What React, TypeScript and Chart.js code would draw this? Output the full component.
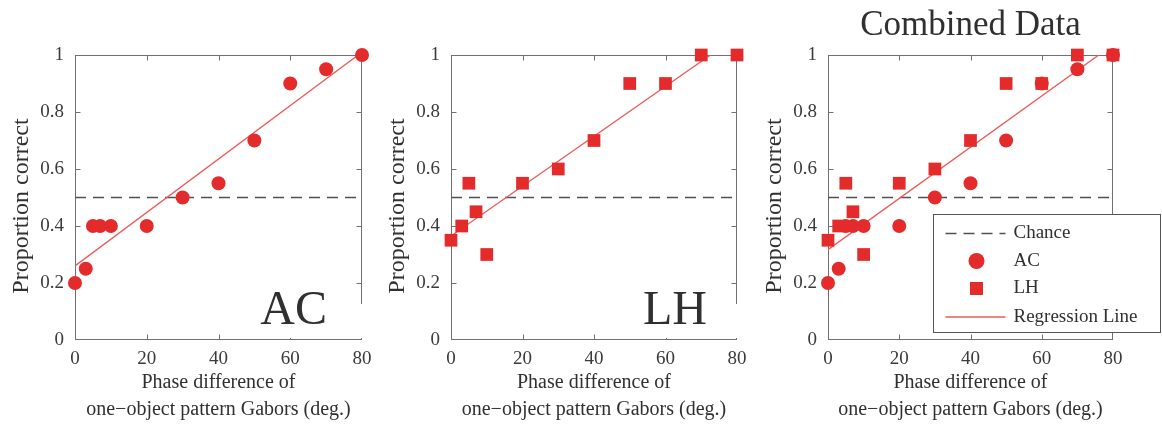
import React, { useEffect, useRef } from "react";
import { Chart, registerables } from "chart.js";

Chart.register(...registerables);

// ---- data ----
const phaseDiffs = [0, 3, 5, 7, 10, 20, 30, 40, 50, 60, 70, 80];
const acProportion = [0.2, 0.25, 0.4, 0.4, 0.4, 0.4, 0.5, 0.55, 0.7, 0.9, 0.95, 1.0];
const lhProportion = [0.35, 0.4, 0.55, 0.45, 0.3, 0.55, 0.6, 0.7, 0.9, 0.9, 1.0, 1.0];
const regressionX = [0, 80];
const acRegression = [0.26, 1.01];
const lhRegression = [0.365, 1.065];
const combinedRegression = [0.317, 1.036];
const chanceX = [0, 80];
const chanceLevel = [0.5, 0.5];
const xTicks = [0, 20, 40, 60, 80];
const yTicks = [0, 0.2, 0.4, 0.6, 0.8, 1];
const legendLabels = ["Chance", "AC", "LH", "Regression Line"];
const panelTitles = ["", "", "Combined Data"];
const panelTags = ["AC", "LH", ""];
const xAxisTitle = ["Phase difference of", "one\u2212object pattern Gabors (deg.)"];
const yAxisTitle = "Proportion correct";

// ---- styles ----
const FONT = '"Liberation Serif", "Times New Roman", Times, serif';
const RED = "#e42b2b";
const REG = "#ef5a5a";
const CHANCE = "#505050";
const FRAME = "#707070";
const TEXT = "#303030";

const panelLeft = [0, 376, 753];
const panelWidth = [387, 387, 409];
const panelPadRight = [25, 26, 49];
const H = 433;

const pts = (xs: number[], ys: number[]) => xs.map((x, i) => ({ x, y: ys[i] }));

function circleSet(label: string, ys: number[]) {
  return {
    label,
    data: pts(phaseDiffs, ys),
    pointStyle: "circle",
    pointRadius: 7,
    pointBackgroundColor: RED,
    pointBorderWidth: 0,
    pointBorderColor: RED,
    showLine: false,
    clip: false,
  };
}
function squareSet(label: string, ys: number[]) {
  return {
    label,
    data: pts(phaseDiffs, ys),
    pointStyle: "rect",
    pointRadius: 9,
    pointBackgroundColor: RED,
    pointBorderWidth: 0,
    pointBorderColor: RED,
    showLine: false,
    clip: false,
  };
}
function regSet(ys: number[]) {
  return {
    label: "Regression Line",
    data: pts(regressionX, ys),
    showLine: true,
    borderColor: REG,
    borderWidth: 1.3,
    pointRadius: 0,
    fill: false,
  };
}
function chanceSet() {
  return {
    label: "Chance",
    data: pts(chanceX, chanceLevel),
    showLine: true,
    borderColor: CHANCE,
    borderWidth: 1.3,
    borderDash: [11, 7],
    pointRadius: 0,
    fill: false,
  };
}

function datasetsFor(i: number) {
  if (i === 0) return [circleSet("AC", acProportion), regSet(acRegression), chanceSet()];
  if (i === 1) return [squareSet("LH", lhProportion), regSet(lhRegression), chanceSet()];
  return [
    circleSet("AC", acProportion),
    squareSet("LH", lhProportion),
    regSet(combinedRegression),
    chanceSet(),
  ];
}

function decorPlugin(i: number) {
  return {
    id: "decor" + i,
    beforeDatasetsDraw(chart: any) {
      const { ctx, chartArea: ca, scales } = chart;
      ctx.save();
      ctx.strokeStyle = FRAME;
      ctx.lineWidth = 1;
      const l = Math.round(ca.left) + 0.5;
      const r = Math.round(ca.right) - 0.5;
      const t = Math.round(ca.top) + 0.5;
      const b = Math.round(ca.bottom) - 0.5;
      ctx.strokeRect(l, t, r - l, b - t);
      ctx.beginPath();
      const tl = 5;
      xTicks.forEach((v) => {
        if (v === xTicks[0] || v === xTicks[xTicks.length - 1]) return;
        const px = Math.round(scales.x.getPixelForValue(v)) + 0.5;
        ctx.moveTo(px, b);
        ctx.lineTo(px, b - tl);
        ctx.moveTo(px, t);
        ctx.lineTo(px, t + tl);
      });
      yTicks.forEach((v) => {
        if (v === yTicks[0] || v === yTicks[yTicks.length - 1]) return;
        const py = Math.round(scales.y.getPixelForValue(v)) + 0.5;
        ctx.moveTo(l, py);
        ctx.lineTo(l + tl, py);
        ctx.moveTo(r, py);
        ctx.lineTo(r - tl, py);
      });
      ctx.stroke();
      ctx.restore();
    },
    afterDraw(chart: any) {
      const { ctx, chartArea: ca } = chart;
      ctx.save();
      // y axis title
      ctx.fillStyle = TEXT;
      ctx.font = `24px ${FONT}`;
      ctx.textAlign = "center";
      ctx.textBaseline = "middle";
      ctx.save();
      ctx.translate(ca.left - 53, ca.top + 151);
      ctx.rotate(-Math.PI / 2);
      ctx.fillText(yAxisTitle, 0, 0);
      ctx.restore();

      // panel tag (AC / LH)
      const tag = panelTags[i];
      if (tag) {
        ctx.font = `48px ${FONT}`;
        const w = ctx.measureText(tag).width;
        const right = ca.right - (i === 0 ? 35 : 30);
        ctx.fillStyle = "#ffffff";
        ctx.fillRect(right - w - 4, ca.bottom - 36, ca.right + 2 - (right - w - 4), 34);
        ctx.fillStyle = TEXT;
        ctx.textAlign = "right";
        ctx.textBaseline = "alphabetic";
        ctx.fillText(tag, right, ca.bottom - 16);
      }

      // title
      const title = panelTitles[i];
      if (title) {
        ctx.font = `35px ${FONT}`;
        ctx.fillStyle = TEXT;
        ctx.textAlign = "center";
        ctx.textBaseline = "alphabetic";
        ctx.fillText(title, (ca.left + ca.right) / 2, 35);
      }

      // legend (combined panel)
      if (i === 2) {
        const lx = Math.round(ca.left + 105) + 0.5;
        const ly = Math.round(ca.top + 159) + 0.5;
        const lw = 227;
        const lh = 118;
        ctx.fillStyle = "#ffffff";
        ctx.fillRect(lx, ly, lw, lh);
        ctx.strokeStyle = "#555555";
        ctx.lineWidth = 1;
        ctx.strokeRect(lx, ly, lw, lh);
        const rows = [19, 46.5, 74, 102.5];
        const sx0 = lx + 12;
        const sx1 = lx + 72;
        const mx = lx + 43;
        // chance
        ctx.save();
        ctx.strokeStyle = CHANCE;
        ctx.lineWidth = 1.3;
        ctx.setLineDash([11, 7]);
        ctx.beginPath();
        ctx.moveTo(sx0, ly + rows[0]);
        ctx.lineTo(sx1, ly + rows[0]);
        ctx.stroke();
        ctx.restore();
        // AC circle
        ctx.fillStyle = RED;
        ctx.beginPath();
        ctx.arc(mx, ly + rows[1], 8, 0, Math.PI * 2);
        ctx.fill();
        // LH square
        ctx.fillRect(mx - 6.5, ly + rows[2] - 6.5, 13, 13);
        // regression
        ctx.strokeStyle = REG;
        ctx.lineWidth = 1.3;
        ctx.beginPath();
        ctx.moveTo(sx0, ly + rows[3]);
        ctx.lineTo(sx1, ly + rows[3]);
        ctx.stroke();
        // texts
        ctx.fillStyle = TEXT;
        ctx.font = `19px ${FONT}`;
        ctx.textAlign = "left";
        ctx.textBaseline = "middle";
        legendLabels.forEach((lab, k) => ctx.fillText(lab, lx + 80, ly + rows[k]));
      }
      ctx.restore();
    },
  };
}

function makeConfig(i: number): any {
  return {
    type: "scatter",
    data: { datasets: datasetsFor(i) },
    options: {
      responsive: false,
      animation: false,
      events: [],
      layout: { padding: { top: 55, right: panelPadRight[i], left: 0, bottom: 0 } },
      plugins: {
        legend: { display: false },
        tooltip: { enabled: false },
        title: { display: false },
      },
      scales: {
        x: {
          type: "linear",
          min: 0,
          max: 80,
          afterBuildTicks: (s: any) => {
            s.ticks = xTicks.map((v) => ({ value: v }));
          },
          grid: { display: false, drawTicks: false },
          border: { display: false },
          ticks: {
            font: { family: FONT, size: 19 },
            color: "#3a3a3a",
            padding: 8,
            maxRotation: 0,
            callback: (v: any) => String(v),
          },
          title: {
            display: true,
            text: xAxisTitle,
            font: { family: FONT, size: 20, lineHeight: 1.35 },
            color: TEXT,
            padding: { top: 0, bottom: 9.5 },
          },
          afterFit: (s: any) => {
            s.height = 93;
          },
        },
        y: {
          type: "linear",
          min: 0,
          max: 1,
          afterBuildTicks: (s: any) => {
            s.ticks = yTicks.map((v) => ({ value: v }));
          },
          grid: { display: false, drawTicks: false },
          border: { display: false },
          ticks: {
            font: { family: FONT, size: 19 },
            color: "#3a3a3a",
            padding: 11,
            callback: (v: any) => String(v),
          },
          afterFit: (s: any) => {
            s.width = 75;
          },
        },
      },
    },
    plugins: [decorPlugin(i)],
  };
}

function Panel({ index }: { index: number }) {
  const ref = useRef<HTMLCanvasElement | null>(null);
  useEffect(() => {
    if (!ref.current) return;
    const chart = new Chart(ref.current, makeConfig(index));
    return () => chart.destroy();
  }, [index]);
  return (
    <canvas
      ref={ref}
      width={panelWidth[index]}
      height={H}
      style={{
        position: "absolute",
        left: panelLeft[index],
        top: 0,
        width: panelWidth[index],
        height: H,
        display: "block",
      }}
    />
  );
}

export default function App() {
  return (
    <div
      style={{
        position: "fixed",
        left: 0,
        top: 0,
        width: 1162,
        height: H,
        background: "#ffffff",
        overflow: "hidden",
      }}
    >
      <Panel index={0} />
      <Panel index={1} />
      <Panel index={2} />
    </div>
  );
}
